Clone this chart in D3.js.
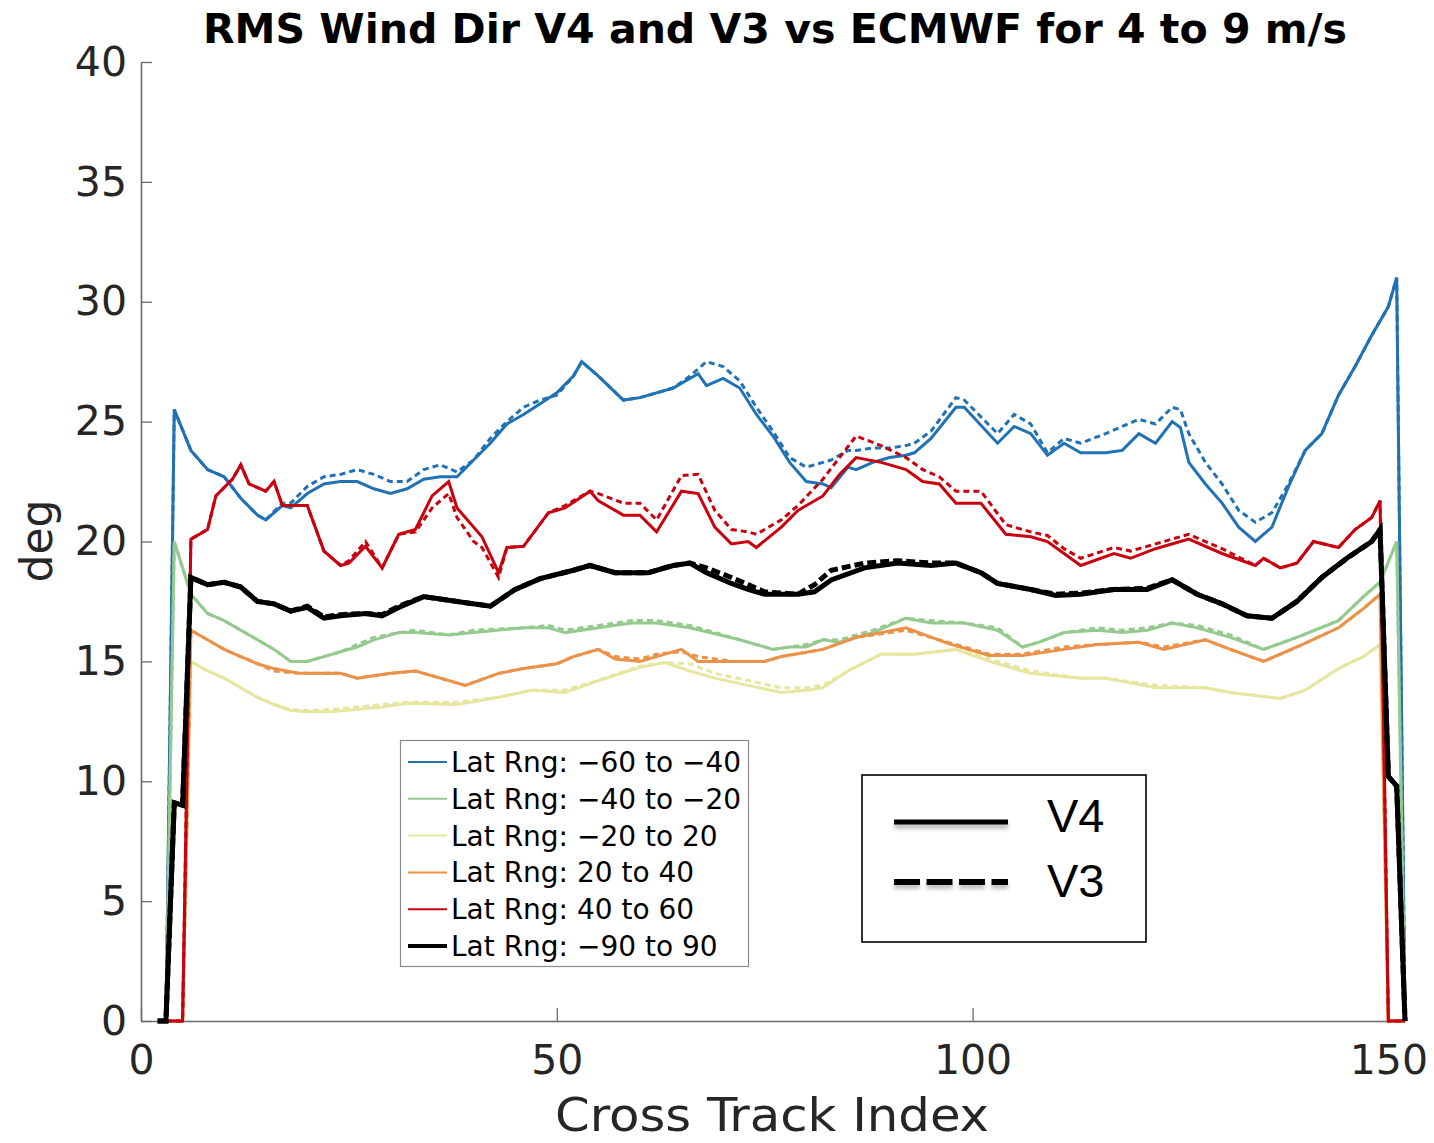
<!DOCTYPE html>
<html>
<head>
<meta charset="utf-8">
<script src="https://cdn.jsdelivr.net/npm/d3@7"></script>
<style>
  html, body { margin: 0; padding: 0; background: #fff; }
  svg { display: block; }
</style>
</head>
<body>
<div id="chart"></div>
<script>
// ---------------- DATA ----------------
const chartTitle = "RMS Wind Dir V4 and V3 vs ECMWF for 4 to 9 m/s";
const xLabel = "Cross Track Index";
const yLabel = "deg";
const xTicks = [0, 50, 100, 150];
const yTicks = [0, 5, 10, 15, 20, 25, 30, 35, 40];
const versionLabels = ["V4", "V3"];
const bandLabels = [
  "Lat Rng: \u221260 to \u221240",
  "Lat Rng: \u221240 to \u221220",
  "Lat Rng: \u221220 to 20",
  "Lat Rng: 20 to 40",
  "Lat Rng: 40 to 60",
  "Lat Rng: \u221290 to 90"
];

// Lat -60 to -40
const blueIdx = [3,4,6,8,10,12,14,15,17,18,20,22,24,26,28,30,32,34,36,38,40,42,44,46,48,50,52,53,55,58,60,62,64,66,67,68,70,72,74,76,78,80,82,83,85,86,88,90,92,93,95,98,99,103,105,107,109,111,113,116,118,120,122,124,125,126,128,130,132,134,136,138,140,142,144,146,148,149,150,151,152];
const blueV4 = [0,25.5,23.8,23.0,22.7,21.8,21.1,20.9,21.5,21.4,22.0,22.4,22.5,22.5,22.2,22.0,22.2,22.6,22.7,22.7,23.4,24.1,24.9,25.3,25.75,26.2,26.9,27.5,26.9,25.9,26.0,26.2,26.4,26.8,27.0,26.5,26.8,26.4,25.3,24.4,23.3,22.5,22.4,22.25,23.1,23.0,23.3,23.5,23.6,23.7,24.3,25.6,25.6,24.1,24.8,24.5,23.6,24.1,23.7,23.7,23.8,24.5,24.1,25.0,24.75,23.3,22.4,21.6,20.6,20.0,20.6,22.3,23.8,24.5,26.1,27.3,28.6,29.2,29.8,31.0,0];
const blueV3 = [0,25.5,23.8,23.0,22.7,21.8,21.1,20.9,21.6,21.6,22.3,22.7,22.8,23.0,22.8,22.5,22.5,23.0,23.2,22.9,23.4,24.3,25.0,25.6,25.9,26.1,26.9,27.5,26.9,25.9,26.0,26.2,26.4,26.9,27.2,27.5,27.3,26.7,25.6,24.6,23.5,23.1,23.3,23.4,23.8,23.8,23.9,23.9,24.0,24.1,24.6,26.0,25.9,24.5,25.3,24.9,23.7,24.3,24.1,24.5,24.8,25.1,24.9,25.6,25.5,24.5,23.3,22.4,21.3,20.8,21.2,22.4,23.8,24.5,26.1,27.3,28.6,29.2,29.8,31.0,0];

// Lat -40 to -20
const greenIdx = [3,4,6,8,10,12,14,16,18,20,22,24,26,28,31,33,37,40,46,49,51,55,59,62,66,72,76,78,80,82,84,88,92,95,99,103,106,108,111,115,118,121,124,127,131,135,139,144,147,149,151,152];
const greenV4 = [0,20.0,17.8,17.0,16.7,16.3,15.9,15.5,15.0,15.0,15.2,15.4,15.6,15.9,16.2,16.2,16.1,16.2,16.4,16.4,16.2,16.4,16.6,16.6,16.4,15.9,15.5,15.6,15.6,15.9,15.8,16.2,16.8,16.6,16.6,16.3,15.6,15.8,16.2,16.3,16.2,16.3,16.6,16.4,16.0,15.5,16.0,16.7,17.7,18.3,20.0,0];
const greenV3 = [0,20.0,17.8,17.0,16.7,16.3,15.9,15.5,15.0,15.0,15.2,15.4,15.7,16.0,16.2,16.3,16.1,16.3,16.4,16.5,16.3,16.5,16.7,16.7,16.5,15.9,15.5,15.6,15.7,15.9,15.9,16.3,16.8,16.7,16.6,16.4,15.6,15.8,16.2,16.4,16.3,16.4,16.6,16.5,16.1,15.5,16.0,16.7,17.7,18.3,20.0,0];

// Lat -20 to 20
const yellowIdx = [3,5,6,8,10,12,14,16,18,20,23,26,29,32,38,43,47,51,55,60,63,66,69,73,77,80,82,85,89,93,98,102,107,113,116,122,128,131,137,140,144,147,149,150,152];
const yellowV4 = [0,0,15.0,14.6,14.3,13.9,13.5,13.2,12.95,12.9,12.9,13.0,13.1,13.25,13.2,13.5,13.8,13.7,14.2,14.75,14.95,14.6,14.3,14.0,13.7,13.8,13.9,14.6,15.3,15.3,15.5,15.0,14.5,14.3,14.3,13.9,13.9,13.7,13.45,13.8,14.7,15.2,15.7,0,0];
const yellowV3 = [0,0,15.0,14.6,14.3,13.9,13.5,13.2,13.0,12.95,13.0,13.1,13.2,13.3,13.3,13.5,13.8,13.8,14.2,14.8,14.95,14.9,14.5,14.2,13.9,13.9,14.0,14.6,15.3,15.3,15.5,15.1,14.6,14.3,14.3,14.0,13.9,13.7,13.45,13.8,14.7,15.2,15.7,0,0];

// Lat 20 to 40
const orangeIdx = [3,5,6,8,10,12,14,16,19,24,26,28,30,33,36,39,43,46,50,52,55,57,60,62,65,67,71,75,77,82,86,92,97,102,106,111,115,120,123,128,131,135,139,144,147,149,150,152];
const orangeV4 = [0,0,16.3,15.9,15.5,15.2,14.9,14.7,14.5,14.5,14.3,14.4,14.5,14.6,14.3,14.0,14.5,14.7,14.9,15.2,15.5,15.1,15.0,15.2,15.5,15.0,15.0,15.0,15.2,15.5,16.0,16.4,15.75,15.25,15.25,15.5,15.7,15.8,15.5,15.9,15.5,15.0,15.6,16.4,17.2,17.8,0,0];
const orangeV3 = [0,0,16.3,15.9,15.5,15.2,14.9,14.6,14.5,14.5,14.3,14.4,14.5,14.6,14.3,14.0,14.5,14.7,14.9,15.2,15.5,15.2,15.1,15.3,15.4,15.2,15.0,15.0,15.2,15.5,16.0,16.3,15.8,15.3,15.3,15.6,15.7,15.8,15.6,15.9,15.5,15.0,15.6,16.4,17.2,17.8,0,0];

// Lat 40 to 60
const redIdx = [3,5,6,8,9,11,12,13,15,16,17,20,22,24,25,27,29,31,33,35,37,38,40,41,43,44,46,49,51,54,55,58,60,62,65,67,69,71,73,74,77,79,82,84,86,89,92,94,96,98,101,104,107,109,111,113,117,119,122,126,130,134,135,137,139,141,144,146,148,149,150,152];
const redV4 = [0,0,20.1,20.5,21.9,22.6,23.2,22.4,22.1,22.5,21.5,21.5,19.6,19.0,19.1,19.8,18.9,20.3,20.5,21.9,22.5,21.4,20.6,20.2,18.7,19.75,19.8,21.2,21.4,22.1,21.7,21.1,21.1,20.4,22.1,22.0,20.6,19.9,20.0,19.75,20.6,21.3,21.9,22.8,23.5,23.3,23.0,22.5,22.4,21.6,21.6,20.3,20.2,20.0,19.5,19.0,19.5,19.3,19.7,20.1,19.5,19.0,19.3,18.9,19.1,20.0,19.75,20.5,21.0,21.7,0,0];
const redV3 = [0,0,20.1,20.5,21.9,22.6,23.2,22.4,22.1,22.5,21.5,21.5,19.6,19.0,19.2,20.0,18.9,20.3,20.4,21.4,22.0,21.0,20.0,19.75,18.5,19.75,19.8,21.2,21.5,22.1,22.0,21.6,21.6,20.9,22.75,22.8,21.3,20.5,20.4,20.3,20.9,21.5,22.6,23.5,24.4,24.0,23.5,23.0,22.7,22.1,22.1,20.7,20.4,20.25,19.7,19.3,19.75,19.6,19.9,20.3,19.7,19.0,19.3,18.9,19.1,20.0,19.75,20.5,21.0,21.7,0,0];

// Lat -90 to 90
const blackIdx = [2,3,4,5,6,8,10,12,14,16,18,20,22,24,27,29,31,34,38,42,45,48,52,54,57,61,64,66,68,71,73,75,79,81,83,87,91,95,98,101,103,107,110,113,117,121,124,127,130,133,136,139,142,145,148,149,150,151,152];
const blackV4 = [0,0,9.1,9.0,18.5,18.2,18.3,18.1,17.5,17.4,17.1,17.25,16.8,16.9,17.0,16.9,17.25,17.7,17.5,17.3,18.0,18.45,18.8,19.0,18.7,18.7,19.0,19.1,18.7,18.25,18.0,17.8,17.8,17.9,18.4,18.9,19.1,19.0,19.1,18.7,18.25,18.0,17.75,17.8,18.0,18.0,18.4,17.8,17.4,16.9,16.8,17.5,18.5,19.3,20.0,20.5,10.2,9.8,0];
const blackV3 = [0,0,9.1,9.0,18.5,18.2,18.3,18.1,17.5,17.4,17.1,17.3,16.85,16.95,17.0,16.95,17.3,17.7,17.5,17.3,18.0,18.45,18.8,19.0,18.7,18.7,19.0,19.1,18.9,18.5,18.2,17.9,17.8,18.2,18.8,19.1,19.2,19.1,19.1,18.7,18.25,18.0,17.8,17.85,18.0,18.05,18.4,17.8,17.4,16.9,16.8,17.5,18.5,19.3,20.0,20.5,10.2,9.8,0];

// ---------------- STYLE ----------------
const bandColors = ["#2171b5", "#95ca8e", "#e6e6a0", "#eb9248", "#c9000d", "#000000"];
const bandWidths = [3, 3, 3, 3, 3, 5];

const bands = [
  { idx: blueIdx,   v4: blueV4,   v3: blueV3 },
  { idx: greenIdx,  v4: greenV4,  v3: greenV3 },
  { idx: yellowIdx, v4: yellowV4, v3: yellowV3 },
  { idx: orangeIdx, v4: orangeV4, v3: orangeV3 },
  { idx: redIdx,    v4: redV4,    v3: redV3 },
  { idx: blackIdx,  v4: blackV4,  v3: blackV3 }
];

const W = 1434, H = 1143;
const svg = d3.select("#chart").append("svg").attr("width", W).attr("height", H)
  .style("background", "#fff");

const defs = svg.append("defs");
const blur = defs.append("filter").attr("id", "blurShadow")
  .attr("filterUnits", "userSpaceOnUse")
  .attr("x", 860).attr("y", 780).attr("width", 200).attr("height", 140);
blur.append("feGaussianBlur").attr("stdDeviation", 2.2);

const x = d3.scaleLinear().domain([0, 152]).range([141, 1405]);
const y = d3.scaleLinear().domain([0, 40]).range([1021, 62]);

const tickFont = "'DejaVu Sans', sans-serif";

// axes
const gy = svg.append("g").attr("transform", "translate(141,0)")
  .call(d3.axisLeft(y).tickValues(yTicks).tickSize(-11).tickSizeOuter(0).tickPadding(14));
const gx = svg.append("g").attr("transform", "translate(0,1021)")
  .call(d3.axisBottom(x).tickValues(xTicks).tickSize(-13).tickSizeOuter(0).tickPadding(24));
[gx, gy].forEach(g => {
  g.select(".domain").attr("stroke", "#6b6b6b").attr("stroke-width", 1.6);
  g.selectAll(".tick line").attr("stroke", "#6b6b6b").attr("stroke-width", 1.3);
  g.selectAll(".tick text").attr("fill", "#262626").style("font-family", tickFont).style("font-size", "41px");
});

// lines
const line = d3.line().x(d => x(d[0])).y(d => y(d[1]));
const plot = svg.append("g");
bands.forEach((b, i) => {
  const d4 = b.idx.map((k, j) => [k, b.v4[j]]);
  const d3s = b.idx.map((k, j) => [k, b.v3[j]]);
  plot.append("path").datum(d3s).attr("d", line).attr("fill", "none")
    .attr("stroke", bandColors[i]).attr("stroke-width", bandWidths[i])
    .attr("stroke-dasharray", i === 5 ? "9,4" : "6,4");
  plot.append("path").datum(d4).attr("d", line).attr("fill", "none")
    .attr("stroke", bandColors[i]).attr("stroke-width", bandWidths[i]);
});

// title
svg.append("text").attr("x", 775).attr("y", 43).attr("text-anchor", "middle")
  .attr("textLength", 1144).attr("lengthAdjust", "spacingAndGlyphs")
  .style("font-family", "'DejaVu Sans Condensed', 'DejaVu Sans', sans-serif")
  .style("font-weight", "bold").style("font-size", "41px").attr("fill", "#000")
  .text(chartTitle);

// axis labels
svg.append("text").attr("x", 772).attr("y", 1131).attr("text-anchor", "middle")
  .attr("textLength", 434).attr("lengthAdjust", "spacingAndGlyphs")
  .style("font-family", "'DejaVu Sans Condensed', 'DejaVu Sans', sans-serif")
  .style("font-size", "46px").attr("fill", "#262626").text(xLabel);
svg.append("text").attr("transform", "translate(52,541) rotate(-90)").attr("text-anchor", "middle")
  .style("font-family", tickFont).style("font-size", "44px").attr("fill", "#262626").text(yLabel);

// legend 1
const lg = svg.append("g");
lg.append("rect").attr("x", 400.5).attr("y", 740.5).attr("width", 348).attr("height", 226)
  .attr("fill", "#fff").attr("stroke", "#8a8a8a").attr("stroke-width", 1.2);
bandLabels.forEach((t, i) => {
  const cy = 762 + i * 36.8;
  lg.append("line").attr("x1", 408).attr("x2", 447).attr("y1", cy).attr("y2", cy)
    .attr("stroke", bandColors[i]).attr("stroke-width", i === 5 ? 4 : 2);
  lg.append("text").attr("x", 451).attr("y", cy + 10)
    .style("font-family", tickFont).style("font-size", "28px").attr("fill", "#000").text(t);
});

// legend 2
const lg2 = svg.append("g");
lg2.append("rect").attr("x", 862).attr("y", 775).attr("width", 284).attr("height", 167)
  .attr("fill", "#fff").attr("stroke", "#000").attr("stroke-width", 1.6);
const sampleY = [822, 882];
const sampleDash = [null, "26,6.5"];
sampleY.forEach((sy, i) => {
  // soft shadow
  lg2.append("line").attr("x1", 894).attr("x2", 1008).attr("y1", sy + 4).attr("y2", sy + 4)
    .attr("stroke", "#000").attr("stroke-opacity", 0.3).attr("stroke-width", 5)
    .attr("stroke-dasharray", sampleDash[i]).attr("filter", "url(#blurShadow)");
  lg2.append("line").attr("x1", 894).attr("x2", 1008).attr("y1", sy).attr("y2", sy)
    .attr("stroke", "#000").attr("stroke-width", i === 0 ? 5 : 6)
    .attr("stroke-dasharray", sampleDash[i]);
});
versionLabels.forEach((t, i) => {
  lg2.append("text").attr("x", 1047).attr("y", 832 + i * 65)
    .style("font-family", "'Liberation Sans', Arial, sans-serif").style("font-size", "47px")
    .attr("fill", "#000").text(t);
});
</script>
</body>
</html>
